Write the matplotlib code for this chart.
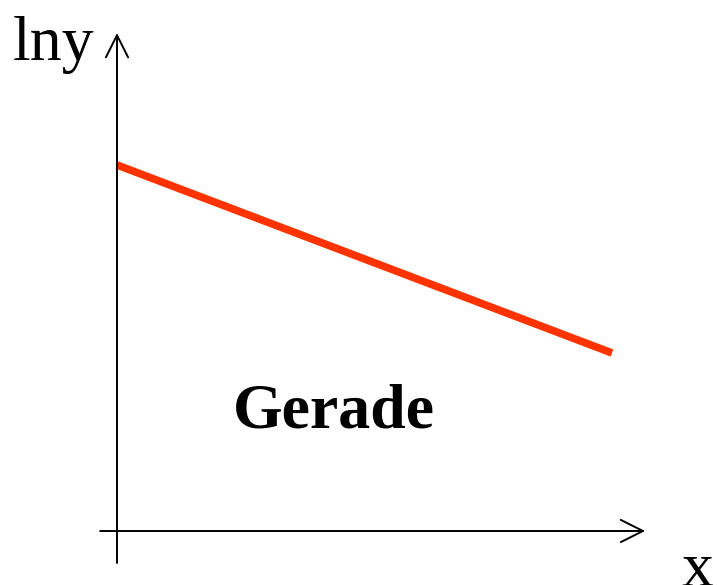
import matplotlib
matplotlib.use("Agg")
import matplotlib.pyplot as plt

# Gerade im halblogarithmischen Diagramm: ln y über x
x_werte = [0, 10]
lny_werte = [7.32, 3.56]

W, H = 724, 585
fig = plt.figure(figsize=(W / 100, H / 100), dpi=100)
ax = fig.add_axes([0, 0, 1, 1])

# Ursprung liegt bei Pixel (117, 531); 49.5 px je x-Einheit, 50 px je y-Einheit
ox, oy, sx, sy = 117, 531, 49.5, 50.0
ax.set_xlim(-ox / sx, (W - ox) / sx)
ax.set_ylim(-(H - oy) / sy, oy / sy)
ax.axis("off")

pfeil = dict(arrowstyle="->,head_length=0.8,head_width=0.4", mutation_scale=20,
             lw=1.4, color="black", shrinkA=0, shrinkB=0)

# x-Achse
ax.annotate("", xy=(10.67, 0), xytext=(-0.34, 0), arrowprops=pfeil)
# y-Achse
ax.annotate("", xy=(0, 9.96), xytext=(0, -0.64), arrowprops=pfeil)

ax.plot(x_werte, lny_werte, color="#ff3300", lw=5.5, solid_capstyle="butt")

serif = ["Liberation Serif", "DejaVu Serif"]
fig.text(13 / W, 1 - 60 / H, "lny", fontsize=46, family=serif, va="baseline", ha="left")
fig.text(682 / W, 1 - 586 / H, "x", fontsize=46, family=serif, va="baseline", ha="left")
fig.text(233 / W, 1 - 428 / H, "Gerade", fontsize=46, family=serif, weight="bold",
         va="baseline", ha="left")

fig.savefig("out.png", dpi=100)
plt.close(fig)
